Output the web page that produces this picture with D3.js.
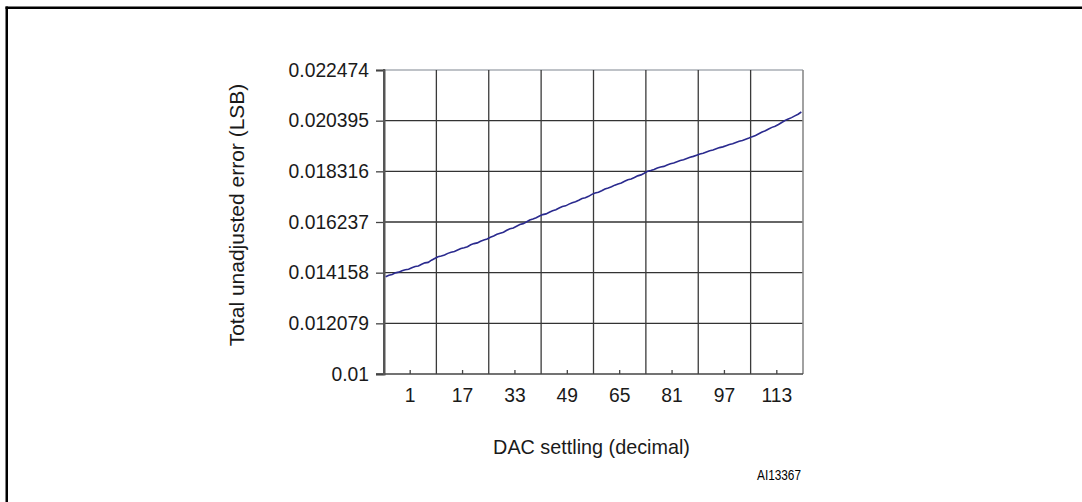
<!DOCTYPE html>
<html><head><meta charset="utf-8">
<script src="https://cdn.jsdelivr.net/npm/d3@7"></script>
<style>html,body{margin:0;padding:0;background:#fff;overflow:hidden}</style>
</head><body>
<svg id="chart" width="1082" height="502"></svg>
<script>
// ---- data ----
const categories = d3.range(1, 129); // DAC settling codes 1..128
const errorValues = [
0.01399,0.01405,0.01408,0.01415,0.01418,0.01424,0.01428,0.01430,0.01436,0.01441,
0.01443,0.01450,0.01456,0.01458,0.01467,0.01474,0.01481,0.01484,0.01488,0.01495,
0.01500,0.01503,0.01509,0.01515,0.01518,0.01522,0.01530,0.01535,0.01538,0.01545,
0.01550,0.01554,0.01561,0.01566,0.01573,0.01578,0.01582,0.01590,0.01596,0.01599,
0.01606,0.01613,0.01617,0.01624,0.01632,0.01636,0.01641,0.01648,0.01654,0.01657,
0.01664,0.01670,0.01674,0.01681,0.01687,0.01690,0.01697,0.01703,0.01707,0.01713,
0.01720,0.01723,0.01729,0.01737,0.01743,0.01746,0.01752,0.01759,0.01763,0.01768,
0.01775,0.01780,0.01784,0.01791,0.01797,0.01800,0.01806,0.01813,0.01817,0.01824,
0.01832,0.01835,0.01839,0.01845,0.01849,0.01852,0.01858,0.01863,0.01866,0.01871,
0.01876,0.01879,0.01884,0.01889,0.01893,0.01898,0.01903,0.01906,0.01911,0.01916,
0.01919,0.01924,0.01929,0.01932,0.01937,0.01942,0.01945,0.01950,0.01955,0.01958,
0.01963,0.01968,0.01974,0.01979,0.01986,0.01993,0.01998,0.02005,0.02012,0.02017,
0.02024,0.02032,0.02040,0.02046,0.02052,0.02059,0.02066,0.02075
];
const xTickLabels = [1, 17, 33, 49, 65, 81, 97, 113];
const yTickValues = [0.01, 0.012079, 0.014158, 0.016237, 0.018316, 0.020395, 0.022474];
const yTickLabels = ["0.01", "0.012079", "0.014158", "0.016237", "0.018316", "0.020395", "0.022474"];
const xTitle = "DAC settling (decimal)";
const yTitle = "Total unadjusted error (LSB)";
const figId = "AI13367";

// ---- layout ----
const svg = d3.select("#chart");
const L = 384, R = 803, T = 70, B = 374;
const font = "'Liberation Sans', Arial, sans-serif";

// outer frame
svg.append("line").attr("x1", 5.5).attr("x2", 1082).attr("y1", 7.75).attr("y2", 7.75)
  .attr("stroke", "#000").attr("stroke-width", 2.5);
svg.append("line").attr("x1", 6.75).attr("x2", 6.75).attr("y1", 6.5).attr("y2", 502)
  .attr("stroke", "#000").attr("stroke-width", 2.5);

const x = d3.scaleBand().domain(categories).range([L, R]).padding(0);
const y = d3.scaleLinear().domain([0.01, 0.022474]).range([B, T]);
const bw = x.bandwidth();

// horizontal gridlines
svg.append("g").selectAll("line").data(yTickValues.slice(1, -1)).join("line")
  .attr("x1", L).attr("x2", R).attr("y1", d => y(d)).attr("y2", d => y(d))
  .attr("stroke", "#333").attr("stroke-width", 1.3);
// top border
svg.append("line").attr("x1", L).attr("x2", R).attr("y1", y(0.022474)).attr("y2", y(0.022474))
  .attr("stroke", "#a9aeb4").attr("stroke-width", 1.6);
// vertical gridlines at group boundaries
svg.append("g").selectAll("line").data(xTickLabels.slice(1)).join("line")
  .attr("x1", d => x(d)).attr("x2", d => x(d)).attr("y1", T).attr("y2", B)
  .attr("stroke", "#3a3a3a").attr("stroke-width", 1.3);
// right border
svg.append("line").attr("x1", R).attr("x2", R).attr("y1", T).attr("y2", B)
  .attr("stroke", "#8a8a8a").attr("stroke-width", 1.6);

// y axis
const yAxis = d3.axisLeft(y).tickValues(yTickValues)
  .tickFormat((d, i) => yTickLabels[i]).tickSizeOuter(0).tickSize(8).tickPadding(7);
const gy = svg.append("g").attr("transform", `translate(${L},0)`).call(yAxis);
gy.select(".domain").attr("stroke", "#555").attr("stroke-width", 2);
gy.selectAll(".tick line").attr("stroke", "#444").attr("stroke-width", 1.3);
gy.selectAll("text").attr("font-family", font).attr("font-size", 19.3).attr("fill", "#1a1a1a");

// x axis (bottom): ticks at group centers pointing up
const xAxis = d3.axisBottom(x).tickValues(xTickLabels).tickSize(-4).tickSizeOuter(0).tickPadding(14);
const gx = svg.append("g").attr("transform", `translate(0,${B})`).call(xAxis);
gx.selectAll(".tick").attr("transform", d => `translate(${x(d) + 8 * bw},0)`);
gx.select(".domain").remove();
gx.append("line").attr("x1", L - 8).attr("x2", R).attr("y1", 0).attr("y2", 0)
  .attr("stroke", "#444").attr("stroke-width", 1.6);
gx.selectAll(".tick line").attr("stroke", "#444").attr("stroke-width", 1.3);
gx.selectAll("text").attr("font-family", font).attr("font-size", 19.3).attr("fill", "#1a1a1a");
// left axis line redraw over
svg.append("line").attr("x1", L).attr("x2", L).attr("y1", T - 1).attr("y2", B + 1)
  .attr("stroke", "#555").attr("stroke-width", 2);

// data line
const line = d3.line().x((d, i) => x(categories[i]) + bw / 2).y(d => y(d));
svg.append("path").datum(errorValues).attr("d", line)
  .attr("fill", "none").attr("stroke", "#2a2a8e").attr("stroke-width", 1.6);

// titles
svg.append("text").attr("x", 591.5).attr("y", 454).attr("text-anchor", "middle")
  .attr("font-family", font).attr("font-size", 19.8).attr("fill", "#1a1a1a").text(xTitle);
svg.append("text").attr("transform", `translate(244,215) rotate(-90)`)
  .attr("text-anchor", "middle")
  .attr("font-family", font).attr("font-size", 21).attr("fill", "#1a1a1a").text(yTitle);
svg.append("text").attr("x", 801).attr("y", 480).attr("text-anchor", "end")
  .attr("font-family", font).attr("font-size", 14).attr("textLength", 44)
  .attr("lengthAdjust", "spacingAndGlyphs").attr("fill", "#000").text(figId);
</script>
</body></html>
